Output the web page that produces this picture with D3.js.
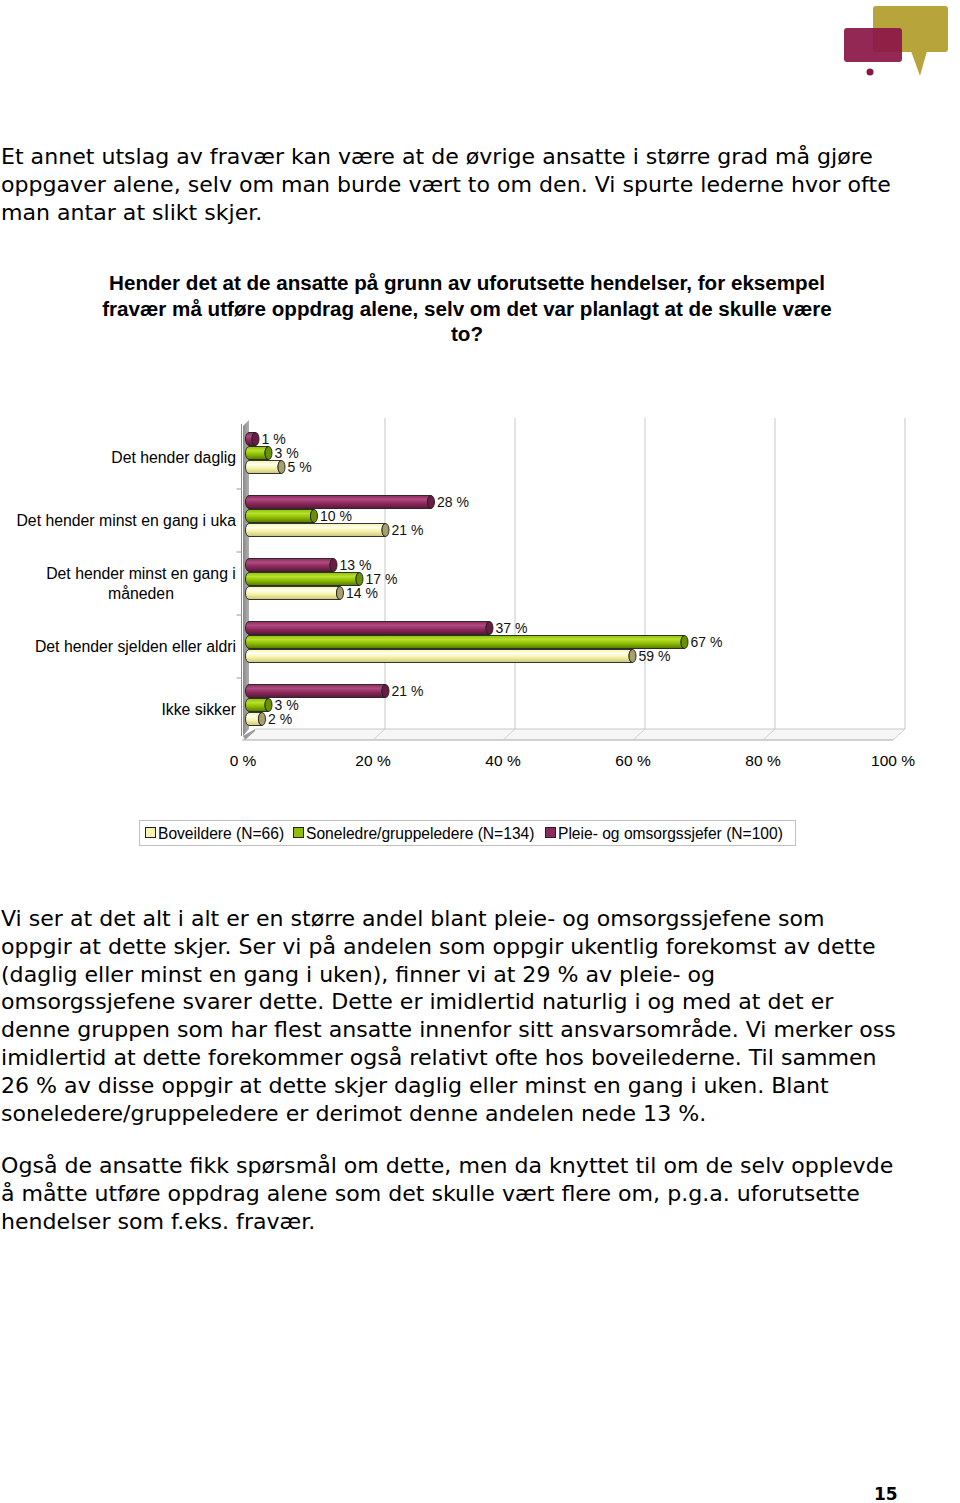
<!DOCTYPE html>
<html><head><meta charset="utf-8">
<script src="https://cdn.jsdelivr.net/npm/d3@7"></script>
<style>
html,body{margin:0;padding:0;background:#fff;}
svg{display:block;}
</style></head>
<body>
<svg id="page" width="960" height="1503"></svg>
<script>
// ---------- data ----------
const categories = ["Det hender daglig", "Det hender minst en gang i uka", "Det hender minst en gang i måneden", "Det hender sjelden eller aldri", "Ikke sikker"];
const categoryLines = [["Det hender daglig"], ["Det hender minst en gang i uka"], ["Det hender minst en gang i", "måneden"], ["Det hender sjelden eller aldri"], ["Ikke sikker"]];
const seriesNames = ["Boveildere (N=66)", "Soneledre/gruppeledere (N=134)", "Pleie- og omsorgssjefer (N=100)"];
const boveildere = [5, 21, 14, 59, 2];
const soneledere = [3, 10, 17, 67, 3];
const pleie = [1, 28, 13, 37, 21];
const xTicks = [0, 20, 40, 60, 80, 100];

const para1 = ["Et annet utslag av fravær kan være at de øvrige ansatte i større grad må gjøre",
  "oppgaver alene, selv om man burde vært to om den. Vi spurte lederne hvor ofte",
  "man antar at slikt skjer."];
const titleLines = ["Hender det at de ansatte på grunn av uforutsette hendelser, for eksempel",
  "fravær må utføre oppdrag alene, selv om det var planlagt at de skulle være",
  "to?"];
const para2 = ["Vi ser at det alt i alt er en større andel blant pleie- og omsorgssjefene som",
  "oppgir at dette skjer. Ser vi på andelen som oppgir ukentlig forekomst av dette",
  "(daglig eller minst en gang i uken), finner vi at 29 % av pleie- og",
  "omsorgssjefene svarer dette. Dette er imidlertid naturlig i og med at det er",
  "denne gruppen som har flest ansatte innenfor sitt ansvarsområde. Vi merker oss",
  "imidlertid at dette forekommer også relativt ofte hos boveilederne. Til sammen",
  "26 % av disse oppgir at dette skjer daglig eller minst en gang i uken. Blant",
  "soneledere/gruppeledere er derimot denne andelen nede 13 %."];
const para3 = ["Også de ansatte fikk spørsmål om dette, men da knyttet til om de selv opplevde",
  "å måtte utføre oppdrag alene som det skulle vært flere om, p.g.a. uforutsette",
  "hendelser som f.eks. fravær."];
const pageNumber = "15";

// ---------- setup ----------
const svg = d3.select("#page");
const bodyFont = "'DejaVu Sans', Verdana, sans-serif";
const chartFont = "'Liberation Sans', Arial, sans-serif";

function fitSize(text, family, weight, targetWidth) {
  const t = svg.append("text").attr("font-family", family).attr("font-weight", weight)
    .attr("font-size", 100).text(text);
  const w = t.node().getComputedTextLength();
  t.remove();
  return 100 * targetWidth / w;
}

// ---------- logo ----------
const logo = svg.append("g");
logo.append("rect").attr("x", 873).attr("y", 6).attr("width", 75).attr("height", 46).attr("rx", 3).attr("fill", "#b7a43a");
logo.append("path").attr("d", "M911,51 L927,51 L920,76 Z").attr("fill", "#b7a43a");
logo.append("rect").attr("x", 844).attr("y", 28).attr("width", 58).attr("height", 34).attr("rx", 3).attr("fill", "#8a1646").attr("opacity", 0.92);
logo.append("circle").attr("cx", 870).attr("cy", 72).attr("r", 3.5).attr("fill", "#8a1646");

// ---------- body text ----------
const bodySize = fitSize(para1[0], bodyFont, "normal", 872);
function paragraph(lines, y0) {
  svg.append("g").selectAll("text").data(lines).join("text")
    .attr("x", 1).attr("y", (d, i) => y0 + i * 27.8)
    .attr("font-family", bodyFont).attr("font-size", bodySize).attr("fill", "#000")
    .text(d => d);
}
paragraph(para1, 164);
paragraph(para2, 926);
paragraph(para3, 1173);

// ---------- title ----------
const titleSize = fitSize(titleLines[0], chartFont, "bold", 716);
svg.append("g").selectAll("text").data(titleLines).join("text")
  .attr("x", 467).attr("y", (d, i) => 290 + i * 25.5)
  .attr("text-anchor", "middle").attr("font-family", chartFont).attr("font-weight", "bold")
  .attr("font-size", titleSize).attr("fill", "#000").text(d => d);

// ---------- chart ----------
const x = d3.scaleLinear().domain([0, 100]).range([249, 899]);
const y = d3.scaleBand().domain(categories).range([421.5, 736.5]).paddingInner(1 / 3).paddingOuter(1 / 6);
const seriesKeys = ["pleie", "sone", "bove"];
const ySub = d3.scaleBand().domain(seriesKeys).range([0, y.bandwidth()]);
const seriesData = { pleie: pleie, sone: soneledere, bove: boveildere };
const colors = {
  pleie: { light: "#b04a80", mid: "#8c2a5c", dark: "#5a1638", cap: "#6a1c44" },
  sone: { light: "#b8e030", mid: "#8fbf00", dark: "#557800", cap: "#6a9200" },
  bove: { light: "#fffff0", mid: "#f5f2a6", dark: "#c9c47c", cap: "#a7a06a" },
  legend: { bove: "#f8f5b0", sone: "#8fbf00", pleie: "#8c2a5c" }
};
const depth = 6;
const chart = svg.append("g");
const defs = svg.append("defs");
seriesKeys.forEach(k => {
  const g = defs.append("linearGradient").attr("id", "grad-" + k).attr("x1", 0).attr("y1", 0).attr("x2", 0).attr("y2", 1);
  g.append("stop").attr("offset", "0%").attr("stop-color", colors[k].mid);
  g.append("stop").attr("offset", "30%").attr("stop-color", colors[k].light);
  g.append("stop").attr("offset", "60%").attr("stop-color", colors[k].mid);
  g.append("stop").attr("offset", "100%").attr("stop-color", colors[k].dark);
});
const wallGrad = defs.append("linearGradient").attr("id", "wall").attr("x1", 0).attr("y1", 0).attr("x2", 1).attr("y2", 0);
wallGrad.append("stop").attr("offset", "0%").attr("stop-color", "#8a8a8a");
wallGrad.append("stop").attr("offset", "100%").attr("stop-color", "#b0b0b0");

const plotTop = 418, plotBottom = 729, floorFront = 740;

// back gridlines
chart.append("g").selectAll("line").data(xTicks.filter(v => v > 0)).join("line")
  .attr("x1", d => x(d) + depth).attr("x2", d => x(d) + depth)
  .attr("y1", plotTop).attr("y2", plotBottom)
  .attr("stroke", "#c8c8c8").attr("stroke-width", 1);

// floor
chart.append("path")
  .attr("d", `M${x(0) - depth},${floorFront} L${x(0) + depth},${plotBottom} L${x(100) + depth},${plotBottom} L${x(100) - depth},${floorFront} Z`)
  .attr("fill", "#f6f6f6").attr("stroke", "none");
chart.append("line").attr("x1", x(0) + depth).attr("x2", x(100) + depth).attr("y1", plotBottom).attr("y2", plotBottom).attr("stroke", "#c8c8c8");
chart.append("line").attr("x1", x(0) - depth - 1).attr("x2", x(100) - depth).attr("y1", floorFront).attr("y2", floorFront).attr("stroke", "#a8a8a8");
chart.append("g").selectAll("line").data(xTicks.filter(v => v > 0)).join("line")
  .attr("x1", d => x(d) + depth).attr("x2", d => x(d) - depth)
  .attr("y1", plotBottom).attr("y2", floorFront)
  .attr("stroke", "#d0d0d0");

// left wall
chart.append("path")
  .attr("d", `M${x(0) - depth},${plotTop + 8} L${x(0)},${plotTop + 2} L${x(0)},${plotBottom} L${x(0) - depth},${floorFront - 4} Z`)
  .attr("fill", "url(#wall)");
chart.append("path")
  .attr("d", `M${x(0) - depth},${floorFront - 4} L${x(0) + depth},${plotBottom} L${x(0) + depth},${plotBottom + 2} L${x(0) - depth + 2},${floorFront} Z`)
  .attr("fill", "#9a9a9a");

// category axis
const axisX = x(0) - depth - 1.5;
chart.append("line").attr("x1", axisX).attr("x2", axisX).attr("y1", plotTop + 6).attr("y2", floorFront - 4)
  .attr("stroke", "#8a8a8a").attr("stroke-width", 1);
const boundaries = categories.slice(1).map(c => y(c) - (y.step() - y.bandwidth()) / 2 + 4.5);
chart.append("g").selectAll("line").data(boundaries).join("line")
  .attr("x1", axisX - 5).attr("x2", axisX).attr("y1", d => d).attr("y2", d => d)
  .attr("stroke", "#9a9a9a");

// category labels
const catG = chart.append("g");
categories.forEach((c, i) => {
  const lines = categoryLines[i];
  const cy = y(c) + y.bandwidth() / 2 + 4.5;
  const lh = 19.5;
  const multi = lines.length > 1;
  lines.forEach((ln, j) => {
    catG.append("text")
      .attr("x", multi ? 141 : 236)
      .attr("y", cy + (j - (lines.length - 1) / 2) * lh + 5.5)
      .attr("text-anchor", multi ? "middle" : "end")
      .attr("font-family", chartFont).attr("font-size", 15.8).attr("fill", "#000").text(ln);
  });
});

// bars
const rows = [];
categories.forEach((c, i) => {
  seriesKeys.forEach(k => rows.push({ cat: c, key: k, value: seriesData[k][i] }));
});
const barG = chart.append("g").selectAll("g").data(rows).join("g");
const capRx = 3.5;
barG.append("path")
  .attr("d", d => {
    const y0 = y(d.cat) + ySub(d.key) + 0.5;
    const h = ySub.bandwidth() - 1;
    const x0 = x(0), x1 = Math.max(x(d.value), x0 + 2);
    return `M${x1},${y0} L${x0},${y0} A${capRx},${h / 2} 0 0 0 ${x0},${y0 + h} L${x1},${y0 + h} A${capRx},${h / 2} 0 0 1 ${x1},${y0} Z`;
  })
  .attr("fill", d => `url(#grad-${d.key})`).attr("stroke", "#1e1e1e").attr("stroke-width", 0.9);
barG.append("ellipse")
  .attr("cx", d => Math.max(x(d.value), x(0) + 2))
  .attr("cy", d => y(d.cat) + ySub(d.key) + ySub.bandwidth() / 2)
  .attr("rx", capRx).attr("ry", (ySub.bandwidth() - 1) / 2)
  .attr("fill", d => colors[d.key].cap).attr("stroke", "#1e1e1e").attr("stroke-width", 0.9);
barG.append("text")
  .attr("x", d => Math.max(x(d.value), x(0) + 2) + capRx + 2.5)
  .attr("y", d => y(d.cat) + ySub(d.key) + ySub.bandwidth() / 2 + 5)
  .attr("font-family", chartFont).attr("font-size", 14).attr("fill", "#111")
  .text(d => d.value + " %");

// x tick labels
chart.append("g").selectAll("text").data(xTicks).join("text")
  .attr("x", d => x(d) - depth).attr("y", 765.5)
  .attr("text-anchor", "middle").attr("font-family", chartFont).attr("font-size", 15.5).attr("fill", "#000")
  .text(d => d + " %");

// legend
const legend = chart.append("g");
legend.append("rect").attr("x", 139.5).attr("y", 820.5).attr("width", 656).attr("height", 25)
  .attr("fill", "#fff").attr("stroke", "#c0c0c0");
const legendOrder = ["bove", "sone", "pleie"];
const legendX = [145, 293, 545];
legendOrder.forEach((k, i) => {
  legend.append("rect").attr("x", legendX[i] + 0.5).attr("y", 827.5).attr("width", 10).attr("height", 10)
    .attr("fill", colors.legend[k]).attr("stroke", "#222");
  legend.append("text").attr("x", legendX[i] + 13).attr("y", 839)
    .attr("font-family", chartFont).attr("font-size", 15.6).attr("fill", "#000").text(seriesNames[i]);
});

// page number
svg.append("text").attr("x", 874).attr("y", 1500).attr("font-family", bodyFont).attr("font-weight", "bold")
  .attr("font-size", 17).attr("fill", "#000").text(pageNumber);
</script>
</body></html>
